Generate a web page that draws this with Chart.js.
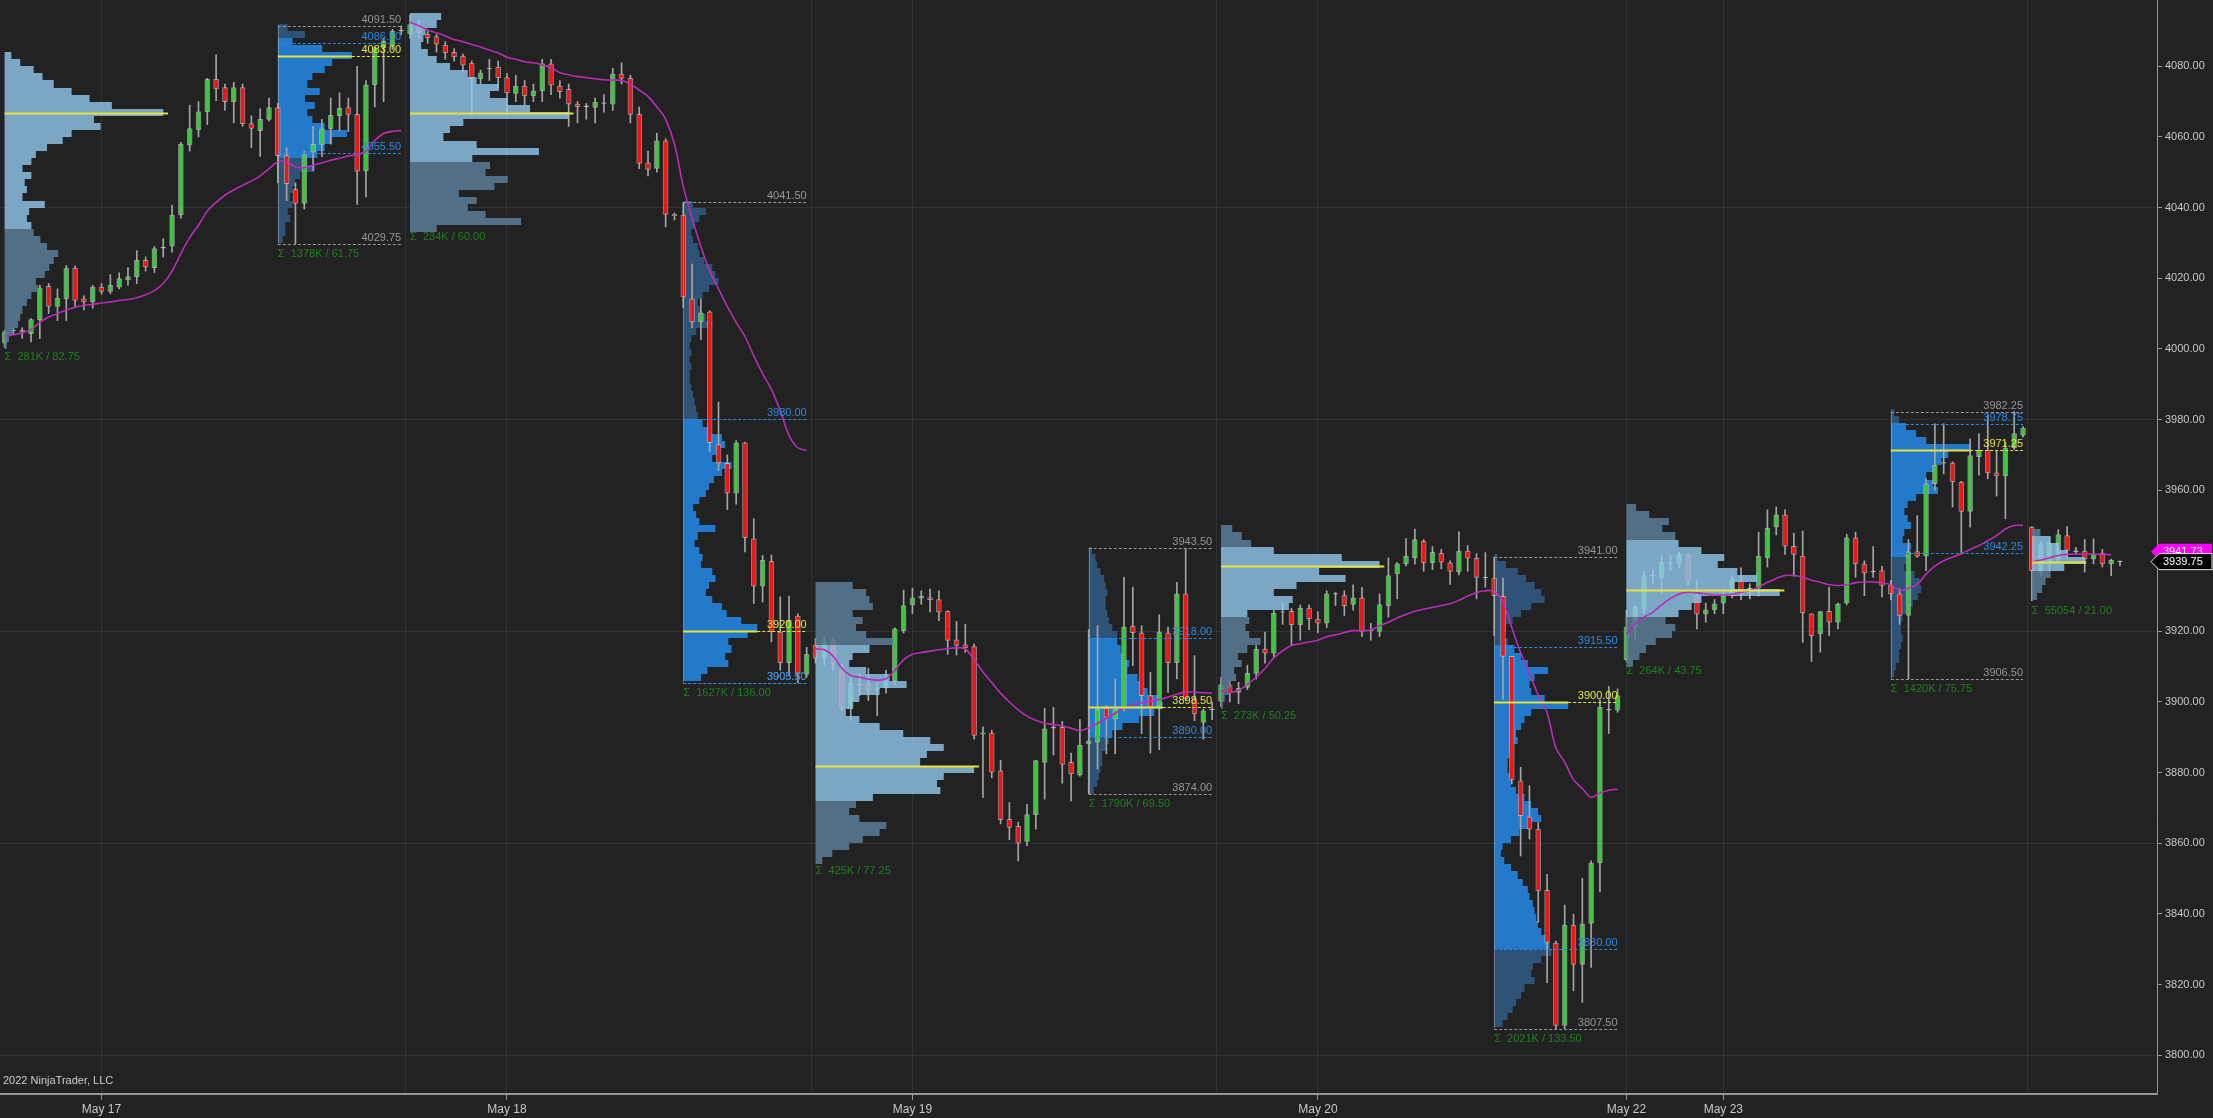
<!DOCTYPE html>
<html><head><meta charset="utf-8">
<script src="https://cdn.jsdelivr.net/npm/chart.js@4.4.1/dist/chart.umd.min.js"></script>
<style>html,body{margin:0;padding:0;background:#222222;overflow:hidden}canvas{display:block}</style>
</head><body>
<canvas id="c" width="2213" height="1118"></canvas>
<script>
// ---------- DATA (30-minute ES bars, index = bar number) ----------
const opens = [
4001.6,4005.1,4005.3,4004.3,4008.3,4017.7,4012,4014.2,4022.9,4014.2,
4013.3,4017.5,4016.3,4017.5,4019.6,4020.4,4025.1,4023,4028.5,4029.1,
4037.9,4057.7,4062,4067.1,4076.3,4074,4070,4074,4063.8,4061.8,
4065,4068.3,4054.7,4045.2,4041.2,4055.7,4057.9,4062.3,4066,4068.3,
4066.4,4050.3,4074.8,4085.3,4085.8,4090,4089.2,4091.3,4089.1,4088.4,
4086,4084,4082.9,4080.9,4076.5,4079.3,4079.8,4076.8,4072.3,4074.4,
4071.6,4073.1,4080.7,4074.4,4073.5,4069.3,4068.8,4068.4,4069.5,4069.3,
4077.8,4076.6,4066.4,4052.7,4051.1,4058.9,4038.1,4037.9,4014.2,4007.6,
4010.5,3972.9,3967.6,3959.1,3973.4,3946.2,3932.8,3939.8,3919.8,3911.1,
3924.3,3907.8,3916.2,3912.4,3917.4,3909.4,3898.2,3904.8,3904.9,3903.6,
3904.0,3905.9,3920.2,3927.5,3929.4,3929.6,3929.0,3925.7,3917.6,3916.2,
3915.7,3890.9,3891.2,3880.5,3866.8,3864.8,3860.5,3868.1,3882.9,3892.6,
3892.8,3882.9,3879.3,3888.1,3888.6,3898.3,3895.2,3898.3,3921.5,3919.6,
3901.8,3898.8,3919.6,3911.1,3930.6,3900.9,3894.2,3897.8,3900.2,3904.8,
3902.7,3904.1,3908.1,3915.0,3913.8,3925.4,3925.7,3921.9,3926.6,3923.5,
3922.3,3930.5,3930.1,3927.6,3929.5,3920.1,3920.0,3927.3,3936.3,3939.1,
3940.8,3945.5,3939.4,3942.1,3939.4,3936.8,3942.7,3940.7,3935.2,3935.1,
3929.9,3912.9,3877.7,3867.5,3864.0,3846.7,3831.7,3808.4,3836.8,3825.7,
3837.3,3854.4,3897.7,3897.7,3912.0,3921.2,3926.4,3935.7,3935.2,3939.2,
3939.1,3941.5,3930.1,3924.9,3926.1,3928.0,3930.1,3934.4,3932.0,3932.3,
3940.8,3949.5,3953.0,3944.1,3941.3,3925.0,3919.3,3925.7,3922.6,3928.0,
3946.5,3939.1,3936.8,3937.2,3933.2,3930.6,3924.5,3942.6,3941.3,3961.8,
3967.6,3967.7,3962.3,3954.0,3969.5,3971.3,3964.9,3964.0,3972.0,3975.5,
3949.5,3937.2,3939.1,3940.5,3947.1,3942.6,3942.7,3940.5,3942.2,3939.1,3939.9];
const highs = [
4005.2,4006,4006,4008.6,4018,4018.5,4017,4023.6,4023.5,4015,
4018,4018.5,4021,4021.5,4023,4027.8,4026,4029,4031.2,4040.7,
4058.5,4069,4070,4076.6,4083.25,4075,4075.5,4075,4066,4068,
4071,4069.5,4057,4047,4056,4063,4065,4071,4072.5,4071,
4080,4076,4085.5,4088,4090.5,4091.5,4094.5,4093,4090,4089,
4087,4085,4083.5,4081.5,4079,4082,4081.5,4078,4077.5,4076,
4075,4082,4082,4076,4075,4070,4069.5,4071,4072,4079.5,
4081,4077.5,4068.5,4056,4061,4059.5,4038.5,4041.5,4024,4014,
4010.8,3984.9,3970,3974,3973.6,3951.9,3941.5,3941.6,3929.8,3930,
3925,3915.5,3918,3918.5,3918,3910.8,3907.5,3908,3909.6,3905.6,
3909,3921,3931.7,3932.25,3931.5,3932,3931.5,3925.8,3922.8,3922.0,
3916.5,3893,3892,3883.5,3871.5,3866,3871,3883.5,3898.2,3898.5,
3894.5,3885.5,3895,3920.5,3921.6,3899,3906.5,3935.3,3932.5,3921.6,
3908.4,3924.7,3921.2,3933.9,3943.5,3913.1,3898,3900,3907,3906,
3905.6,3910.4,3916,3919.8,3926,3928,3926.5,3927.5,3927.5,3925.5,
3931.5,3931,3931.5,3933.2,3932.5,3922.3,3930.6,3940.8,3939.5,3946.3,
3949,3946,3944,3943.2,3940,3948.2,3944.3,3942,3942.3,3941,
3935.1,3913,3881.5,3876.3,3865.9,3851.2,3832.3,3842.5,3839.9,3850.0,
3855,3900.6,3904.4,3903.7,3925.9,3927.3,3937,3937.4,3941.5,3941.5,
3942.5,3942,3934.4,3928.0,3929,3931.6,3935.8,3938.0,3933.5,3948.1,
3954.4,3955.25,3954.4,3947.8,3948.4,3925.0,3925.7,3932.5,3928,3947.5,
3948.1,3940,3944.0,3938.4,3934.4,3932,3946,3952.8,3963.2,3978.8,
3978.8,3968,3962.5,3974.5,3976.0,3981.2,3971.3,3973.6,3982.25,3978.0,
3949.7,3945.5,3946.5,3948.8,3949.7,3943.8,3946.0,3946.2,3943.2,3940.5,3940];
const lows = [
4000.5,4004,4003,4002,4002.9,4010,4008,4008,4012,4011,
4011.5,4015.5,4015.6,4017,4018,4018.5,4022,4021.6,4026,4027.4,
4037,4056,4060,4063.5,4070.3,4067.5,4064,4063,4057,4054.5,
4064.5,4047,4042,4029.75,4039.6,4050.5,4054.4,4058,4061.8,4061.5,
4040.9,4043,4068.5,4070,4084.8,4089,4088,4088,4086.5,4084,
4082,4081.5,4078.5,4066,4075,4076,4074,4066,4070,4069,
4070,4070,4072,4071,4063,4064,4065,4064,4067,4067.5,
4075,4064,4051,4049,4050,4034.5,4036.5,4011.7,4006,4002.6,
3971,3965.5,3954.5,3956,3942.5,3927.9,3928.3,3917,3909,3907.5,
3905.5,3907,3911,3910.5,3908.9,3897.5,3894.7,3901.8,3900.4,3896.1,
3902.5,3905,3919.5,3925.0,3927.7,3925.5,3923,3913.5,3913.3,3914,
3889.5,3873,3878.5,3865.5,3861,3855,3859.3,3864,3872.5,3885,
3877,3872,3879,3874,3881,3885.3,3885.3,3897.5,3910.3,3891,
3885.5,3886.5,3902.7,3906.5,3900.4,3894.7,3889.5,3895,3898.75,3900,
3899.5,3903.5,3906.5,3911,3912.5,3922,3916,3917.5,3920.5,3919.6,
3921,3927.3,3924.5,3926,3918.5,3917.5,3918.5,3924,3929.2,3938.5,
3939,3937,3937.5,3937.7,3933.3,3936,3937,3929.2,3932.5,3918.8,
3900.8,3876.8,3856.4,3861.2,3837.6,3820.5,3807.5,3807.5,3818.2,3814.9,
3824.8,3846.2,3891.1,3897.1,3911.5,3917.9,3925,3933.5,3930.6,3937.2,
3938,3933,3920.7,3922.6,3925,3925,3929.5,3929.0,3929.2,3930,
3938.2,3947.3,3941.8,3935.6,3916.9,3911.5,3914.1,3918.8,3920.7,3927.5,
3935.3,3930.1,3935.3,3929.7,3928.9,3922,3906.5,3941,3937.2,3959.9,
3964.6,3955.2,3941.9,3949.5,3964.2,3963.2,3958.3,3951.9,3971.5,3975,
3928.7,3936,3937,3939.8,3941,3941.8,3936.8,3939.1,3938.2,3935.8,3938.5];
const closes = [
4004.8,4005.3,4004.8,4008.3,4017.3,4012.0,4014.4,4022.9,4013.7,4013.3,
4017.5,4016.3,4018,4019.9,4020.5,4025.1,4023.2,4028.4,4028.8,4037.9,
4058,4062.4,4067.1,4076.3,4073.6,4070,4074,4063.8,4062.4,4065,
4068.3,4054.7,4046.8,4041.2,4055,4057.9,4062.3,4066.1,4068.2,4066.4,
4050.3,4074.8,4085.3,4087.2,4090,4090.2,4091.8,4089.6,4088.1,4086.3,
4083.8,4082.7,4080.3,4076.5,4078.2,4079.5,4076.8,4072.5,4074.4,4071.6,
4073.1,4080.7,4074.7,4072.8,4069.3,4068.6,4068.5,4069.8,4069.7,4077.8,
4076.6,4066.4,4052.5,4050.8,4058.9,4038.1,4037.7,4014.7,4007.6,4010.2,
3973.4,3967.6,3959.1,3973.4,3946.5,3932.8,3940.1,3920.0,3911.1,3923.1,
3907.9,3913.6,3912.4,3917.1,3910.8,3898.2,3905.3,3905.0,3903.4,3903.8,
3905.9,3920.7,3927.3,3929.5,3929.9,3929.0,3925.4,3917.4,3916.0,3915.3,
3890.5,3891.3,3880.1,3866.7,3864.5,3860.0,3868.1,3883.4,3892.4,3892.8,
3882.3,3879.6,3887.8,3889.0,3898.0,3895.6,3898.0,3921.2,3919.6,3901.8,
3898.5,3919.9,3911.1,3930.6,3900.9,3896.6,3897.5,3897.9,3904.9,3902.6,
3903.9,3908.1,3915.0,3913.8,3925.2,3925.5,3921.9,3926.6,3923.5,3922.3,
3930.6,3930.7,3927.3,3929.5,3920.0,3920.3,3927.6,3935.8,3939.1,3941.3,
3946.0,3939.4,3942.4,3939.6,3937.0,3942.7,3940.7,3935.3,3935.4,3930.1,
3912.9,3877.9,3867.8,3864.0,3846.5,3831.9,3808.4,3836.8,3825.7,3837.1,
3854.4,3898.5,3897.9,3901.8,3921.2,3926.8,3935.8,3935.9,3939.6,3939.4,
3941.8,3934.4,3924.9,3926.1,3927.8,3930.0,3934.9,3930.6,3932.2,3941.3,
3949.2,3953.0,3944.1,3941.8,3925.2,3918.8,3925.6,3922.6,3927.8,3946.5,
3939.1,3936.5,3937.0,3933.0,3930.6,3924.5,3942.6,3941.3,3961.8,3967.0,
3967.8,3962.3,3954.0,3969.8,3971.3,3964.9,3964.0,3971.9,3976.0,3977.6,
3937.2,3944.6,3945.0,3947.4,3942.9,3942.8,3940.5,3941.9,3939.1,3940.1,3939.75];

// VWAP per trading day (start bar index + values)
const vwapStarts = [0, 46, 92, 138, 184, 230];
const vwapDay1 = [4003.5,4004,4004.5,4005.5,4007.5,4009,4010,4011,4011.8,4012.3,4012.6,4013,4013.3,4013.7,4014,4014.5,4015.3,4016.5,4018.5,4022,4027,4031.5,4035,4039,4041.5,4043.5,4045,4046.3,4047.5,4049,4051,4053,4053,4051.5,4051.3,4052,4052.7,4053.4,4054,4054.6,4055,4056,4059,4061,4061.6,4061.8];
const vwapDay2 = [4092.5,4091.5,4090.3,4089.5,4088.6,4087.6,4087,4086.2,4085.5,4084.6,4083.8,4082.6,4082,4081.3,4081,4080.4,4079.6,4078.2,4077.6,4077.1,4076.8,4076.5,4076.2,4076.1,4076,4075,4073.3,4071.5,4068.5,4065,4058,4046,4037,4029,4022,4017,4012,4007.5,4003.5,3998,3993,3988.5,3982.5,3975.5,3972,3971.2];
const vwapDay3 = [3915,3914.8,3913,3909.5,3907.5,3907,3906.5,3906.2,3906.6,3909,3912,3913.5,3914,3914.4,3914.8,3915.1,3915.4,3915,3912,3908.5,3905.5,3902.5,3900,3897.8,3896,3894.8,3894,3893.6,3893.2,3892.6,3891.9,3892.7,3894,3895.4,3896.8,3898.3,3899.2,3899.8,3900.2,3900.7,3901.4,3902.2,3902.8,3902.8,3902.6,3902.5];
const vwapDay4 = [3903.2,3902.7,3903.3,3905,3907,3909.5,3912.5,3914.5,3916,3916.5,3917,3917.5,3918.5,3919,3919.7,3920.2,3920.2,3920.4,3921.6,3922.6,3923.8,3924.8,3925.7,3926.3,3926.8,3927.3,3927.8,3928.8,3930,3931,3931.5,3931.3,3928.3,3921,3914,3908,3902,3897,3887,3883,3878,3875.5,3873,3874.2,3875,3875.3];
const vwapDay5 = [3919.3,3922.1,3924,3925.4,3927.5,3929.3,3930.6,3931.1,3930.9,3930.6,3930.3,3930.3,3930.5,3931,3931.6,3932.6,3933.9,3935,3935.8,3935.8,3935.3,3934.5,3933.9,3933.2,3933,3933.2,3933.8,3934,3934,3933.7,3933.2,3931.6,3932.2,3933.3,3936.2,3938.5,3940,3941,3942,3943.2,3944.3,3945.7,3947.1,3949,3950,3950];
const vwapDay6 = [3939.6,3940.2,3940.8,3941.5,3941.8,3941.9,3941.9,3941.9,3941.8,3941.73];

// X-axis ticks
const dateTickIdx = [11, 57, 103, 149, 184, 195];
const dateTickLabels = ['May 17', 'May 18', 'May 19', 'May 20', 'May 22', 'May 23'];
const sessionBreakIdx = [45.5, 91.5, 137.5, 229.5];
const yTickValues = [3800,3820,3840,3860,3880,3900,3920,3940,3960,3980,4000,4020,4040,4060,4080,4100];

// Volume profiles (2-point price buckets, listed from top bucket downward)
const volP1 = [15,35,65,85,110,150,190,240,355,200,215,150,130,95,70,60,40,60,45,50,40,90,55,50,60,65,80,95,120,110,100,90,70,75,60,50,40,35,30,20,10,5];
const volP2 = [20,55,30,90,150,110,95,70,60,85,55,75,60,70,95,140,110,95,80,60,75,45,35,30,25,30,20,25,15,15,10];
const volP3 = [70,60,35,30,25,40,60,90,130,150,200,180,220,270,357,120,90,75,150,290,140,180,170,220,190,110,150,130,170,250,60];
const volP4 = [30,70,50,35,25,30,45,50,65,90,100,110,80,60,45,55,70,90,40,25,20,25,20,25,20,20,25,30,35,40,45,60,85,120,130,110,90,150,120,95,80,70,50,30,40,50,100,45,35,50,60,55,90,100,80,70,90,120,135,180,230,200,140,150,130,140,75,55];
const volP5 = [110,150,160,170,110,140,120,150,230,160,110,100,150,220,270,190,130,110,90,130,190,260,340,380,330,310,470,380,360,370,170,120,100,130,210,190,140,100,50,20];
const volP6 = [10,20,25,35,45,50,55,50,50,55,60,70,85,85,95,105,120,115,145,155,175,205,220,195,150,100,70,60,50,40,40,35,30,25,15];
const volP7 = [30,55,80,140,320,420,260,330,200,140,190,180,70,75,65,75,105,70,45,55,35,40,25,20,10,5];
const volP8 = [10,35,70,95,120,140,150,110,80,55,35,25,40,60,80,100,160,120,105,110,150,220,110,90,80,65,70,55,45,40,40,45,50,65,90,110,130,140,100,75,50,25,20,30,50,70,85,100,105,115,120,125,130,140,155,165,170,140,115,110,120,90,80,65,55,40,25];
const volP9 = [30,70,130,110,150,160,230,300,280,340,400,330,470,230,200,160,120,150,140,90,60,40,20];
const volP10 = [10,25,45,75,105,235,170,150,130,105,125,140,75,50,40,50,60,40,35,60,55,45,40,70,85,90,80,65,45,35,30,30,35,30,25,25,15,10];
const volP11 = [25,55,80,105,155,95,55,40,30,15];

const profileStart = [0, 31, 46, 77, 92, 123, 138, 169, 184, 214, 230];
const profileEnd   = [30, 45, 76, 91, 122, 137, 168, 183, 213, 229, 240];
const profileSession = ['ETH','RTH','ETH','RTH','ETH','RTH','ETH','RTH','ETH','RTH','ETH'];
const profileTopBucket = [4083, 4091, 4094, 4041, 3933, 3943, 3949, 3941, 3955, 3982, 3948];
const profileHigh = [4083.25, 4091.50, 4094.50, 4041.50, 3932.25, 3943.50, 3949.00, 3941.00, 3955.25, 3982.25, 3949.70];
const profileLow  = [4000.50, 4029.75, 4034.50, 3905.50, 3855.00, 3874.00, 3898.75, 3807.50, 3911.50, 3906.50, 3928.70];
const profilePOC  = [4066.75, 4083.00, 4066.75, 3920.00, 3881.75, 3898.50, 3938.50, 3900.00, 3931.75, 3971.25, 3939.75];
const profileVAH  = [4083.25, 4086.50, 4094.50, 3980.00, 3916.00, 3918.00, 3944.00, 3915.50, 3945.00, 3978.75, 3946.00];
const profileVAL  = [4035.00, 4055.50, 4053.00, 3905.50, 3872.50, 3890.00, 3925.50, 3830.00, 3924.50, 3942.25, 3937.00];
const profileVolumeText = ['281K','1378K','234K','1627K','425K','1790K','273K','2021K','264K','1420K','55054'];
const profileVols = [volP1, volP2, volP3, volP4, volP5, volP6, volP7, volP8, volP9, volP10, volP11];

const lastPrice = 3939.75;
const vwapLast = 3941.73;

// ---------- STYLE ----------
const FONT = '"Liberation Sans", Arial, sans-serif';
const GREEN = 'rgb(60,200,60)', RED = 'rgb(240,22,22)', DOJI = 'rgb(200,200,200)';
const WICK = 'rgb(165,165,165)', MAGENTA = 'rgb(186,44,186)';
const BUCKET = 2, WFRAC = 0.6;
const X_MIN = -0.52, X_MAX = 244.2, Y_MIN = 3788.99, Y_MAX = 4098.79;

// ---------- BUILD ----------
const idx = opens.map((_, i) => i);
const wickData = idx.map(i => ({x: i, y: [lows[i], highs[i]]}));
const bodyData = idx.map(i => ({x: i, y: [opens[i], closes[i]]}));
const bodyColors = idx.map(i => {
  const d = closes[i] - opens[i];
  return Math.abs(d) < 0.35 ? DOJI : (d > 0 ? GREEN : RED);
});
const vwapArrays = [vwapDay1, vwapDay2, vwapDay3, vwapDay4, vwapDay5, vwapDay6];
const vwapSets = vwapArrays.map((arr, d) => ({
  type: 'line', order: 0,
  data: arr.map((v, k) => ({x: vwapStarts[d] + k, y: v})),
  borderColor: MAGENTA, borderWidth: 1.6, pointRadius: 0, tension: 0.35, fill: false
}));

function profileFill(chart, k) {
  const {ctx, scales: {x, y}, chartArea: ca} = chart;
  const vols = profileVols[k];
  const mx = Math.max(...vols);
  const span = profileEnd[k] - profileStart[k];
  const x0 = x.getPixelForValue(profileStart[k]);
  const rth = profileSession[k] === 'RTH';
  ctx.save();
  ctx.beginPath(); ctx.rect(ca.left, ca.top, ca.right - ca.left, ca.bottom - ca.top); ctx.clip();
  vols.forEach((v, j) => {
    const c = profileTopBucket[k] - j * BUCKET;
    const yt = Math.round(y.getPixelForValue(c + BUCKET / 2));
    const yb = Math.round(y.getPixelForValue(c - BUCKET / 2));
    const w = x.getPixelForValue(profileStart[k] + v / mx * span * WFRAC) - x0;
    const inVA = c <= profileVAH[k] + 0.5 && c >= profileVAL[k] - 0.5;
    if (rth) ctx.fillStyle = inVA ? 'rgba(36,126,212,0.95)' : 'rgba(48,86,124,0.95)';
    else ctx.fillStyle = inVA ? 'rgba(146,200,238,0.80)' : 'rgba(92,124,150,0.85)';
    ctx.fillRect(x0, yt, w, yb - yt);
  });
  ctx.restore();
}

function hLine(ctx, x1, x2, yy, color, dash, width) {
  ctx.save();
  ctx.strokeStyle = color; ctx.lineWidth = width || 1; ctx.setLineDash(dash || []);
  ctx.beginPath(); ctx.moveTo(x1, Math.round(yy) + 0.5); ctx.lineTo(x2, Math.round(yy) + 0.5); ctx.stroke();
  ctx.restore();
}
function rLabel(ctx, text, xr, yy, color) {
  ctx.fillStyle = color; ctx.textAlign = 'right'; ctx.textBaseline = 'bottom';
  ctx.fillText(text, xr, Math.round(yy) - 1);
}

function profileMarks(chart, k) {
  const {ctx, scales: {x, y}} = chart;
  const span = profileEnd[k] - profileStart[k];
  const x0 = x.getPixelForValue(profileStart[k]);
  const x1 = x.getPixelForValue(profileEnd[k]);
  const pocW = x.getPixelForValue(profileStart[k] + span * WFRAC) - x0;
  const yPoc = y.getPixelForValue(profilePOC[k]);
  ctx.save();
  ctx.font = '11px ' + FONT;
  const GREY = 'rgb(150,150,150)', BLUE = 'rgb(46,136,226)', YEL = 'rgb(228,228,60)';
  if (profileSession[k] === 'RTH') {
    const yH = y.getPixelForValue(profileHigh[k]), yL = y.getPixelForValue(profileLow[k]);
    ctx.strokeStyle = 'rgba(190,190,190,0.45)'; ctx.lineWidth = 1;
    ctx.beginPath(); ctx.moveTo(Math.round(x0) + 0.5, yH); ctx.lineTo(Math.round(x0) + 0.5, yL); ctx.stroke();
    hLine(ctx, x0, x1, yH, GREY, [3, 2]);
    hLine(ctx, x0, x1, yL, GREY, [3, 2]);
    rLabel(ctx, profileHigh[k].toFixed(2), x1, yH, GREY);
    rLabel(ctx, profileLow[k].toFixed(2), x1, yL, GREY);
    const yVH = y.getPixelForValue(profileVAH[k]), yVL = y.getPixelForValue(profileVAL[k]);
    hLine(ctx, x0, x1, yVH, BLUE, [3, 2]);
    hLine(ctx, x0, x1, yVL, BLUE, [3, 2]);
    hLine(ctx, x0, x0 + pocW, yPoc, YEL, [], 2);
    hLine(ctx, x0 + pocW, x1, yPoc, YEL, [3, 2]);
    rLabel(ctx, profileVAH[k].toFixed(2), x1, yVH, BLUE);
    rLabel(ctx, profileVAL[k].toFixed(2), x1, yVL, BLUE);
    rLabel(ctx, profilePOC[k].toFixed(2), x1, yPoc, YEL);
  } else {
    hLine(ctx, x0, x0 + pocW * 1.03, yPoc, YEL, [], 2);
  }
  const yLow = y.getPixelForValue(profileLow[k]);
  ctx.fillStyle = 'rgb(30,128,30)'; ctx.textAlign = 'left'; ctx.textBaseline = 'top';
  ctx.fillText('\u03A3  ' + profileVolumeText[k] + ' / ' + (profileHigh[k] - profileLow[k]).toFixed(2), x0, Math.round(yLow) + 4);
  ctx.restore();
}

function priceTag(ctx, yy, text, fill, stroke, textColor) {
  const xl = 2151, xb = 2159, xr = 2212, h = 8;
  ctx.save();
  ctx.beginPath();
  ctx.moveTo(xl, yy); ctx.lineTo(xb, yy - h); ctx.lineTo(xr, yy - h); ctx.lineTo(xr, yy + h); ctx.lineTo(xb, yy + h); ctx.closePath();
  ctx.fillStyle = fill; ctx.fill();
  if (stroke) { ctx.strokeStyle = stroke; ctx.lineWidth = 1; ctx.stroke(); }
  ctx.fillStyle = textColor; ctx.font = '11px ' + FONT; ctx.textAlign = 'left'; ctx.textBaseline = 'middle';
  ctx.fillText(text, xb + 4, yy + 0.5);
  ctx.restore();
}

const profilePlugin = {
  id: 'profiles',
  beforeDatasetsDraw(chart) {
    profileStart.forEach((_, k) => { if (profileSession[k] === 'RTH') profileFill(chart, k); });
  },
  afterDatasetDraw(chart, args) {
    if (args.index === 1) profileStart.forEach((_, k) => { if (profileSession[k] === 'ETH') profileFill(chart, k); });
  },
  afterDatasetsDraw(chart) {
    profileStart.forEach((_, k) => profileMarks(chart, k));
  },
  afterDraw(chart) {
    const {ctx, scales: {y}} = chart;
    ctx.save();
    ctx.font = '11px ' + FONT; ctx.fillStyle = 'rgb(205,205,205)'; ctx.textAlign = 'left'; ctx.textBaseline = 'middle';
    ctx.fillText('2022 NinjaTrader, LLC', 3, 1081);
    // top tick label partially outside the plot, as in the original
    const topTick = yTickValues[yTickValues.length - 1];
    ctx.fillStyle = 'rgb(200,200,200)';
    ctx.fillText(topTick.toFixed(2), y.right - 56 + 9, y.getPixelForValue(topTick));
    ctx.restore();
    priceTag(ctx, y.getPixelForValue(vwapLast) - 3, vwapLast.toFixed(2), 'rgb(255,0,255)', null, 'rgb(255,255,255)');
    priceTag(ctx, y.getPixelForValue(lastPrice), lastPrice.toFixed(2), 'rgb(0,0,0)', 'rgb(230,230,230)', 'rgb(255,255,255)');
  }
};

new Chart(document.getElementById('c'), {
  type: 'bar',
  data: {
    datasets: [
      { type: 'bar', order: 2, data: wickData, backgroundColor: WICK, barThickness: 1, grouped: false, borderWidth: 0 },
      { type: 'bar', order: 1, data: bodyData, backgroundColor: bodyColors, barThickness: 5, grouped: false,
        borderWidth: 1, borderColor: 'rgba(215,215,215,0.55)', borderSkipped: false },
      ...vwapSets
    ]
  },
  options: {
    responsive: false, animation: false, devicePixelRatio: 1,
    layout: { padding: 0 },
    plugins: { legend: { display: false }, tooltip: { enabled: false } },
    scales: {
      x: {
        type: 'linear', min: X_MIN, max: X_MAX, offset: false,
        afterBuildTicks: s => { s.ticks = dateTickIdx.concat(sessionBreakIdx).sort((a, b) => a - b).map(v => ({value: v})); },
        afterFit: s => { s.height = 24; s.paddingLeft = 0; s.paddingRight = 0; },
        grid: { offset: false, color: 'rgba(255,255,255,0.07)', lineWidth: 1, tickLength: 6,
                tickColor: c => dateTickIdx.includes(c.tick && c.tick.value) ? 'rgb(150,150,150)' : 'rgba(0,0,0,0)' },
        border: { color: 'rgb(150,150,150)', width: 2 },
        ticks: { autoSkip: false, maxRotation: 0, minRotation: 0, padding: 2, color: 'rgb(200,200,200)', font: { size: 12, family: FONT },
                 callback: v => { const j = dateTickIdx.indexOf(v); return j >= 0 ? dateTickLabels[j] : ''; } }
      },
      y: {
        type: 'linear', position: 'right', min: Y_MIN, max: Y_MAX,
        afterBuildTicks: s => { s.ticks = yTickValues.map(v => ({value: v})); },
        afterFit: s => { s.width = 56; s.paddingTop = 0; s.paddingBottom = 0; },
        grid: { color: c => (Math.round(c.tick ? c.tick.value : 0) % 60 === 20) ? 'rgba(255,255,255,0.07)' : 'rgba(0,0,0,0)',
                tickColor: 'rgb(150,150,150)', tickLength: 5 },
        border: { color: 'rgb(150,150,150)', width: 1 },
        ticks: { padding: 3, color: 'rgb(200,200,200)', font: { size: 11, family: FONT }, callback: v => Number(v).toFixed(2) }
      }
    }
  },
  plugins: [profilePlugin]
});
</script>
</body></html>
